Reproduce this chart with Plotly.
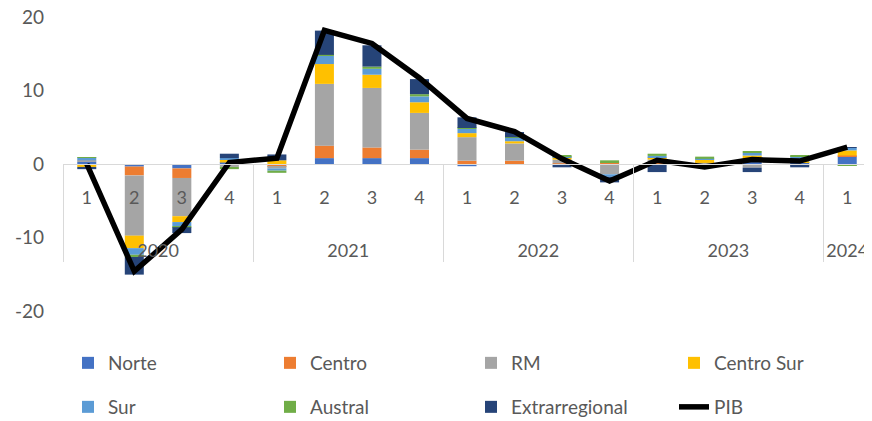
import plotly.graph_objects as go

years = ["2020"] * 4 + ["2021"] * 4 + ["2022"] * 4 + ["2023"] * 4 + ["2024"]
quarters = ["1", "2", "3", "4"] * 4 + ["1"]
y_tickvals = [-20, -10, 0, 10, 20]
y_ticktext = ["-20", "-10", "0", "10", "20"]

norte = [0.3, -0.35, -0.6, 0.2, -0.1, 0.8, 0.8, 0.8, -0.3, -0.1, -0.1, -0.1, -0.1, -0.1, 0.3, 0.2, 1.05]
centro = [-0.1, -1.2, -1.3, -0.1, -0.3, 1.7, 1.45, 1.15, 0.45, 0.45, 0.1, 0.25, 0.3, 0.05, 0.35, 0.05, 0.1]
rm = [0.2, -8.2, -5.2, -0.3, -0.2, 8.4, 8.1, 5.0, 3.2, 2.35, 0.5, -1.3, 0.3, 0.1, -0.5, -0.2, -0.15]
centro_sur = [-0.3, -1.7, -0.8, 0.4, 0.5, 2.7, 1.8, 1.45, 0.55, 0.3, 0.35, 0.0, 0.3, 0.5, 0.5, 0.1, 0.7]
sur = [0.4, -0.9, -0.6, 0.2, -0.3, 1.1, 0.8, 0.8, 0.6, 0.5, 0.05, -0.35, 0.2, 0.05, 0.35, 0.7, 0.35]
austral = [0.05, -0.3, -0.1, -0.3, -0.3, 0.15, 0.3, 0.3, 0.1, 0.05, 0.2, 0.25, 0.3, 0.3, 0.2, 0.1, -0.05]
extrarregional = [-0.3, -2.4, -0.8, 0.6, 0.8, 3.3, 2.9, 2.05, 1.45, 0.7, -0.35, -0.75, -1.0, -0.2, -0.6, -0.25, 0.05]
pib = [0.0, -14.6, -8.9, 0.2, 0.8, 18.2, 16.4, 11.7, 6.2, 4.4, 0.7, -2.3, 0.5, -0.4, 0.6, 0.4, 2.3]

series = [
    ("Norte", norte, "#4472C4"),
    ("Centro", centro, "#ED7D31"),
    ("RM", rm, "#A5A5A5"),
    ("Centro Sur", centro_sur, "#FFC000"),
    ("Sur", sur, "#5B9BD5"),
    ("Austral", austral, "#70AD47"),
    ("Extrarregional", extrarregional, "#264478"),
]

# The page body has an 8px margin, so the figure is drawn 8px in from the
# top-left corner of the 872x421 window; size and place it accordingly.
OFF = 8
W, H = 872 - OFF, 421 - OFF
L, R, T, B = 63 - OFF, 1, 17 - OFF, 421 - 311

# legend grid: 4 columns, 2 rows (page pixels where each text starts / row centre)
col_x = [108, 310, 511, 714]
row_y = [363, 407]
legend_names = ["legend" if i == 0 else "legend%d" % (i + 1) for i in range(8)]

# secondary (year) labels pushed lower, as in the reference
year_labels = ["<br><br>" + y for y in years]
x = [year_labels, quarters]

font = dict(family="Lato, Open Sans, sans-serif", size=19, color="#595959")
xfont = dict(family="Lato, Open Sans, sans-serif", size=18, color="#595959")

fig = go.Figure()
for i, (name, vals, color) in enumerate(series):
    fig.add_trace(go.Bar(x=x, y=vals, name=name, marker=dict(color=color, line=dict(width=0)),
                         legend=legend_names[i]))
fig.add_trace(go.Scatter(x=x, y=pib, name="PIB", mode="lines",
                         line=dict(color="black", width=5.5), legend=legend_names[7]))

legends = {}
for i, ln in enumerate(legend_names):
    legends[ln] = dict(x=(col_x[i % 4] - 40 - OFF) / W, y=1 - (row_y[i // 4] - OFF) / H,
                       xref="container", yref="container",
                       xanchor="left", yanchor="middle", orientation="h", font=font,
                       bgcolor="rgba(0,0,0,0)")

fig.update_layout(
    width=W, height=H,
    margin=dict(l=L, r=R, t=T, b=B, autoexpand=False),
    barmode="relative",
    bargap=0.6,
    plot_bgcolor="white",
    paper_bgcolor="white",
    font=font,
    showlegend=True,
    xaxis=dict(type="multicategory", anchor="free", position=0.5,
               showline=True, linecolor="#D9D9D9", linewidth=1,
               showgrid=False, zeroline=False,
               ticks="", ticklabelstandoff=17, ticklabeloverflow="allow",
               showdividers=True, dividercolor="#D9D9D9", dividerwidth=1,
               tickfont=xfont),
    yaxis=dict(range=[-20, 20], tickmode="array", tickvals=y_tickvals, ticktext=y_ticktext,
               showgrid=False, zeroline=False, ticklabeloverflow="allow",
               showline=False, ticks="", ticklabelstandoff=18, tickfont=font),
    **legends,
)

fig.write_html("out.html")
